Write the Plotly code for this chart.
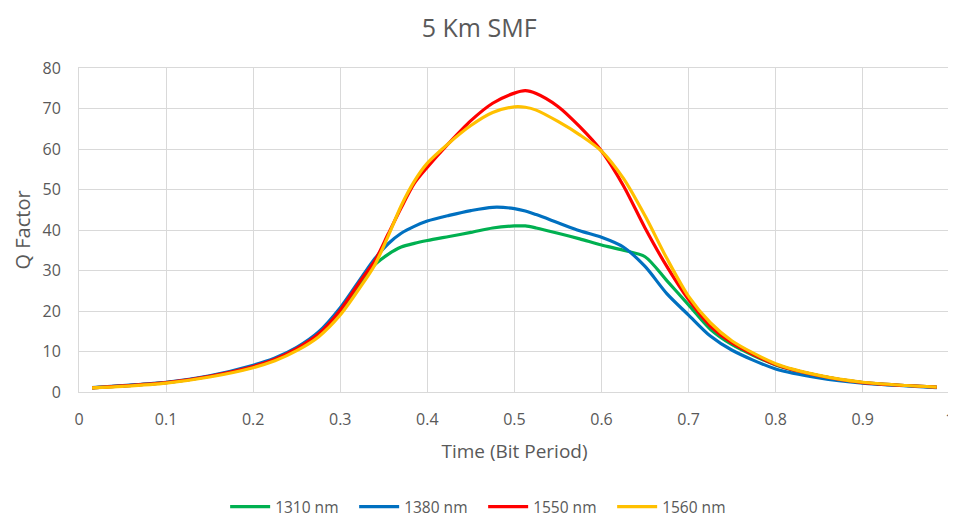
import plotly.graph_objects as go

time_x = [0.015, 0.05, 0.1, 0.15, 0.2, 0.225, 0.25, 0.275, 0.3, 0.325, 0.34, 0.355,
          0.37, 0.385, 0.4, 0.425, 0.45, 0.475, 0.5, 0.5125, 0.525, 0.55, 0.575, 0.6, 0.625,
          0.65, 0.675, 0.7, 0.725, 0.75, 0.8, 0.85, 0.9, 0.95, 0.985]

q_1310 = [1.0, 1.5, 2.3, 3.9, 6.2, 8.0, 10.6, 14.2, 20.0, 27.5, 31.5, 34.0,
          35.8, 36.7, 37.4, 38.4, 39.4, 40.5, 41.0, 41.0, 40.5, 39.2, 37.8, 36.3, 35.0,
          33.4, 27.5, 21.5, 15.5, 11.7, 6.7, 4.0, 2.3, 1.6, 1.2]

q_1380 = [1.1, 1.6, 2.4, 4.0, 6.6, 8.4, 11.0, 14.8, 20.8, 28.5, 33.0, 36.6,
          39.2, 40.9, 42.2, 43.6, 44.8, 45.6, 45.3, 44.7, 43.8, 41.8, 39.8, 38.2, 35.8,
          31.0, 24.3, 19.0, 13.8, 10.3, 5.7, 3.5, 2.2, 1.5, 1.1]

q_1550 = [1.0, 1.5, 2.3, 3.9, 6.3, 8.1, 10.7, 14.3, 20.2, 28.0, 32.5, 39.0,
          45.5, 51.5, 55.5, 61.5, 67.0, 71.3, 73.8, 74.4, 73.7, 70.5, 65.5, 59.5, 51.0,
          40.5, 31.0, 22.8, 16.3, 12.1, 6.8, 4.0, 2.3, 1.6, 1.2]

q_1560 = [1.0, 1.4, 2.2, 3.7, 6.0, 7.7, 10.2, 13.6, 19.0, 26.5, 31.5, 38.5,
          46.0, 52.0, 56.5, 61.5, 65.8, 69.0, 70.4, 70.3, 69.6, 66.8, 63.5, 59.5, 52.8,
          43.5, 33.0, 23.6, 17.1, 12.6, 7.0, 4.1, 2.4, 1.6, 1.2]

x_tick_vals = [0, 0.1, 0.2, 0.3, 0.4, 0.5, 0.6, 0.7, 0.8, 0.9, 1]
x_tick_text = ["0", "0.1", "0.2", "0.3", "0.4", "0.5", "0.6", "0.7", "0.8", "0.9", "1"]
y_tick_vals = [0, 10, 20, 30, 40, 50, 60, 70, 80]

series_names = ["1310 nm", "1380 nm", "1550 nm", "1560 nm"]
series_values = [q_1310, q_1380, q_1550, q_1560]
series_colors = ["#00b050", "#0070c0", "#ff0000", "#ffc000"]

font_family = "Open Sans, Liberation Sans, sans-serif"
text_color = "#595959"
grid_color = "#d9d9d9"

fig = go.Figure()
for name, vals, col in zip(series_names, series_values, series_colors):
    fig.add_trace(go.Scatter(
        x=time_x, y=vals, name=name, mode="lines",
        line=dict(color=col, width=3.2, shape="spline", smoothing=0.8),
    ))

# page body has an 8px margin, so the figure is sized 948x513
fig.update_layout(
    width=948, height=513,
    margin=dict(l=71, r=6, t=60, b=129, autoexpand=False),
    paper_bgcolor="white", plot_bgcolor="white",
    font=dict(family=font_family, color=text_color, size=16),
    title=dict(text="5 Km SMF", x=0.497, xref="container", xanchor="center",
               y=0.961, yref="container", yanchor="middle",
               font=dict(size=25, color=text_color, family=font_family)),
    showlegend=True,
    legend=dict(orientation="h", x=0.464, xanchor="center", y=-0.355, yanchor="middle",
                font=dict(size=15.5, color=text_color), itemwidth=40,
                entrywidth=74, entrywidthmode="pixels", tracegroupgap=0),
    xaxis=dict(range=[0, 1.0002], tickmode="array", tickvals=x_tick_vals, ticktext=x_tick_text,
               showgrid=True, gridcolor=grid_color,
               gridwidth=1, showline=True, linecolor=grid_color, mirror=True,
               zeroline=False, ticks="", automargin=False, ticklabelstandoff=13,
               ticklabeloverflow="allow",
               tickfont=dict(size=16, color=text_color),
               title=dict(text="Time (Bit Period)", font=dict(size=19, color=text_color),
                          standoff=15)),
    yaxis=dict(range=[0, 80], tickmode="array", tickvals=y_tick_vals,
               showgrid=True, gridcolor=grid_color,
               gridwidth=1, showline=True, linecolor=grid_color, mirror=True,
               zeroline=False, ticks="", ticklabelstandoff=14, automargin=False,
               tickfont=dict(size=16, color=text_color)),
    annotations=[dict(text="Q Factor", textangle=-90, xref="paper", yref="paper",
                      x=-0.066, y=0.5, xanchor="center", yanchor="middle",
                      showarrow=False, font=dict(size=20, color=text_color))],
)

fig.write_html("out.html")
